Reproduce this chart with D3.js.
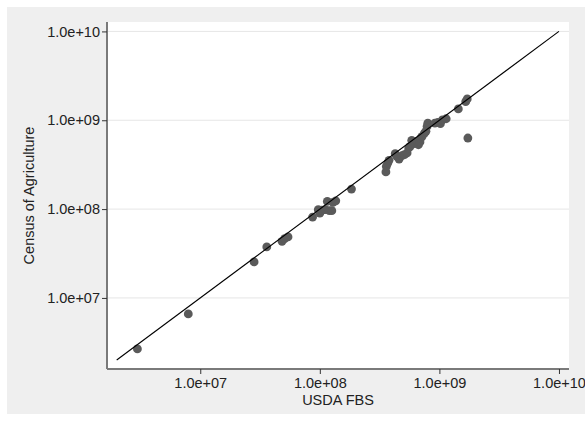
<!DOCTYPE html>
<html><head><meta charset="utf-8">
<script src="https://cdn.jsdelivr.net/npm/d3@7"></script>
<style>body{margin:0;background:#fff;} text{font-family:"Liberation Sans",Arial,sans-serif;}</style>
</head><body>
<svg id="chart" width="585" height="422"></svg>
<script>
// USDA FBS (x) vs Census of Agriculture (y)
const usdaFBS = [2.98e6,7.94e6,2.82e7,3.6e7,4.83e7,5.08e7,5.42e7,8.7e7,9.7e7,1.0e8,1.04e8,1.11e8,1.155e8,1.2e8,1.26e8,1.29e8,1.36e8,1.84e8,
  3.57e8,3.6e8,3.7e8,3.79e8,4.27e8,4.4e8,4.6e8,4.87e8,5.1e8,5.37e8,5.54e8,5.7e8,5.87e8,6.13e8,6.5e8,6.68e8,6.88e8,6.98e8,7.18e8,7.5e8,7.72e8,7.89e8,8.0e8,
  9.17e8,9.7e8,1.02e9,1.06e9,1.14e9,1.44e9,1.66e9,1.71e9,1.73e9];
const censusAg = [2.67e6,6.6e6,2.54e7,3.75e7,4.34e7,4.65e7,4.86e7,8.13e7,9.86e7,9.0e7,9.7e7,9.86e7,1.22e8,9.6e7,9.6e7,1.19e8,1.24e8,1.68e8,
  2.62e8,3.02e8,3.3e8,3.54e8,4.2e8,3.93e8,3.66e8,4.0e8,4.1e8,4.28e8,4.87e8,5.09e8,5.94e8,5.45e8,5.79e8,5.3e8,5.69e8,6.31e8,6.6e8,7.18e8,7.5e8,8.53e8,9.3e8,
  9.3e8,9.47e8,9.14e8,1.01e9,1.04e9,1.34e9,1.62e9,1.74e9,6.31e8];
const tickValues = [1e7,1e8,1e9,1e10];
const tickLabels = ["1.0e+07","1.0e+08","1.0e+09","1.0e+10"];
const refLine = [2.0e6, 1.0e10];

(function(){
const svg = d3.select("#chart");
svg.append("rect").attr("x",7).attr("y",7).attr("width",578).attr("height",407).attr("fill","#efefef");

const pL=107, pR=569, pT=22, pB=369;
svg.append("rect").attr("x",pL).attr("y",pT).attr("width",pR-pL).attr("height",pB-pT).attr("fill","#fff");

const x = d3.scaleLog().domain([Math.pow(10,6.22),Math.pow(10,10.084)]).range([pL,pR]);
const y = d3.scaleLog().domain([Math.pow(10,6.2),Math.pow(10,10.106)]).range([pB,pT]);

// gridlines
svg.append("g").selectAll("line").data(tickValues).join("line")
  .attr("x1",pL).attr("x2",pR).attr("y1",d=>y(d)).attr("y2",d=>y(d))
  .attr("stroke","#e6e6e6").attr("stroke-width",1);

const fmt = d => tickLabels[tickValues.indexOf(d)];
const xAxis = svg.append("g").attr("transform",`translate(0,${pB})`)
  .call(d3.axisBottom(x).tickValues(tickValues).tickFormat(fmt).tickSize(5).tickSizeOuter(0).tickPadding(4));
const yAxis = svg.append("g").attr("transform",`translate(${pL},0)`)
  .call(d3.axisLeft(y).tickValues(tickValues).tickFormat(fmt).tickSize(5).tickSizeOuter(0).tickPadding(2));
[xAxis,yAxis].forEach(a=>{
  a.select(".domain").attr("stroke","#7a7a7a").attr("stroke-width",2);
  a.selectAll(".tick line").attr("stroke","#333").attr("stroke-width",1);
  a.selectAll("text").attr("font-size",14.5).attr("fill","#222").attr("font-family","Liberation Sans, Arial, sans-serif");
});
xAxis.select(".domain").attr("d",`M${pL},0H${pR}`);
yAxis.select(".domain").attr("d",`M0,${pB}V${pT}`);
xAxis.selectAll("text").attr("dy","0.72em");

// points
const pts = usdaFBS.map((v,i)=>({x:v,y:censusAg[i]}));
svg.append("g").selectAll("circle").data(pts).join("circle")
  .attr("cx",d=>x(d.x)).attr("cy",d=>y(d.y)).attr("r",4.4).attr("fill","#5a5a5a");

// 45 degree line
svg.append("line").attr("x1",x(refLine[0])).attr("y1",y(refLine[0]))
  .attr("x2",x(refLine[1])).attr("y2",y(refLine[1])).attr("stroke","#000").attr("stroke-width",1.1);

svg.append("text").attr("x",(pL+pR)/2).attr("y",405).attr("text-anchor","middle")
  .attr("font-size",14.5).attr("fill","#222").text("USDA FBS");
svg.append("text").attr("transform",`translate(34,${(pT+pB)/2}) rotate(-90)`).attr("text-anchor","middle")
  .attr("font-size",14.5).attr("fill","#222").text("Census of Agriculture");
})();
</script></body></html>
